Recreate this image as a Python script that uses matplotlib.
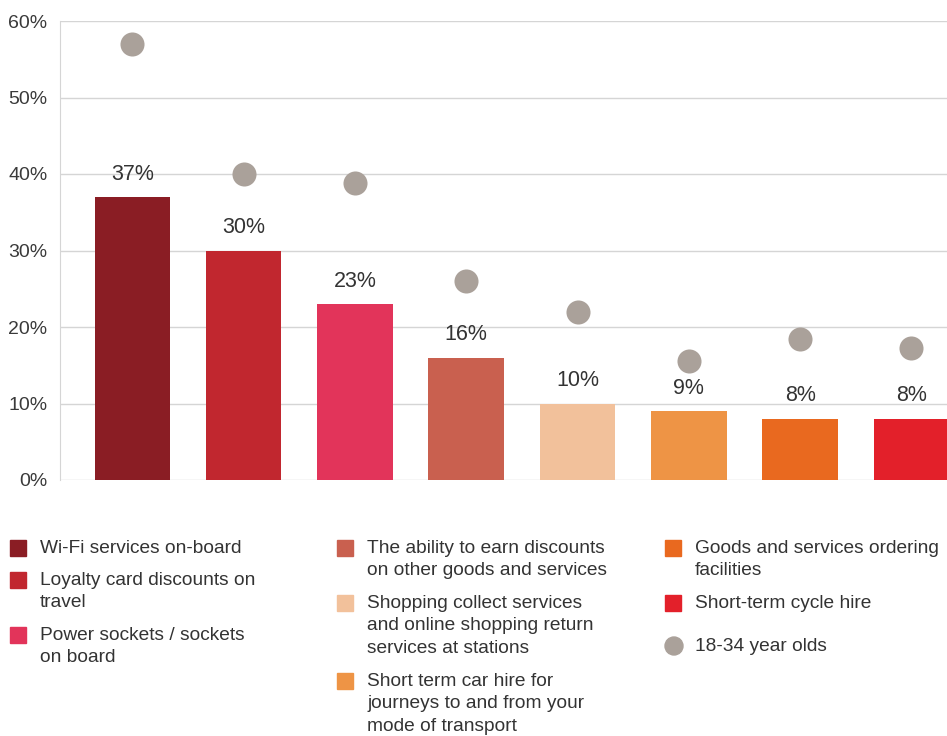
import numpy as np
import matplotlib.pyplot as plt
from matplotlib.patches import Rectangle, Ellipse

plt.rcParams['font.family'] = ['Liberation Sans', 'DejaVu Sans']

# Данные
categories = ['Wi-Fi services on-board',
              'Loyalty card discounts on\ntravel',
              'Power sockets / sockets\non board',
              'The ability to earn discounts\non other goods and services',
              'Shopping collect services\nand online shopping return\nservices at stations',
              'Short term car hire for\njourneys to and from your\nmode of transport',
              'Goods and services ordering\nfacilities',
              'Short-term cycle hire']
all_values = [37, 30, 23, 16, 10, 9, 8, 8]
young_values = [57, 40, 38.8, 26, 22, 15.6, 18.4, 17.2]
young_label = '18-34 year olds'
bar_colors = ['#8a1d24', '#c1272f', '#e2345a', '#c9604f',
              '#f2c19b', '#ee9445', '#e9691f', '#e3202a']
dot_color = '#aaa19a'
yticks = [0, 10, 20, 30, 40, 50, 60]

W, H = 947, 736
fig = plt.figure(figsize=(W / 100, H / 100), dpi=100)
ax = fig.add_axes([60 / W, 1 - 480 / H, 1 - 60 / W, (480 - 21) / H])

x = np.arange(len(all_values))
ax.bar(x, all_values, width=0.68, color=bar_colors, zorder=2)
ax.scatter(x, young_values, s=300, color=dot_color, zorder=3, linewidths=0)
for xi, v in zip(x, all_values):
    ax.text(xi, v + 3.0, f'{v}%', ha='center', va='center', fontsize=15.5, color='#333333')

ax.set_xlim(-0.65, 7.32)
ax.set_ylim(0, 60)
ax.set_yticks(yticks)
ax.set_yticklabels([f'{t}%' for t in yticks], fontsize=14, color='#3a3a3a')
ax.tick_params(axis='y', length=0, pad=9)
ax.set_xticks([])
ax.grid(axis='y', color='#d5d5d5', linewidth=1, zorder=0)
for s in ['top', 'right', 'bottom']:
    ax.spines[s].set_visible(False)
ax.spines['left'].set_color('#d5d5d5')

# Легенда вручную, три колонки
columns = [[0, 1, 2], [3, 4, 5], [6, 7, 'dot']]
col_x = [10, 337, 665]
line_h = 23
gap = 9
for cx, col in zip(col_x, columns):
    y = 548
    for item in col:
        if item == 'dot':
            y += 11
            fig.add_artist(Ellipse(((cx + 9) / W, 1 - y / H), 18 / W, 18 / H,
                                   color=dot_color, transform=fig.transFigure))
            label = young_label
        else:
            fig.add_artist(Rectangle((cx / W, 1 - (y + 8) / H), 16 / W, 16 / H,
                                     color=bar_colors[item], transform=fig.transFigure))
            label = categories[item]
        fig.text((cx + 30) / W, 1 - (y - 8) / H, label, fontsize=13.8, color='#333333',
                 va='top', ha='left', linespacing=1.42)
        y += label.count('\n') * line_h + line_h + gap

fig.savefig('out.png', dpi=100)
